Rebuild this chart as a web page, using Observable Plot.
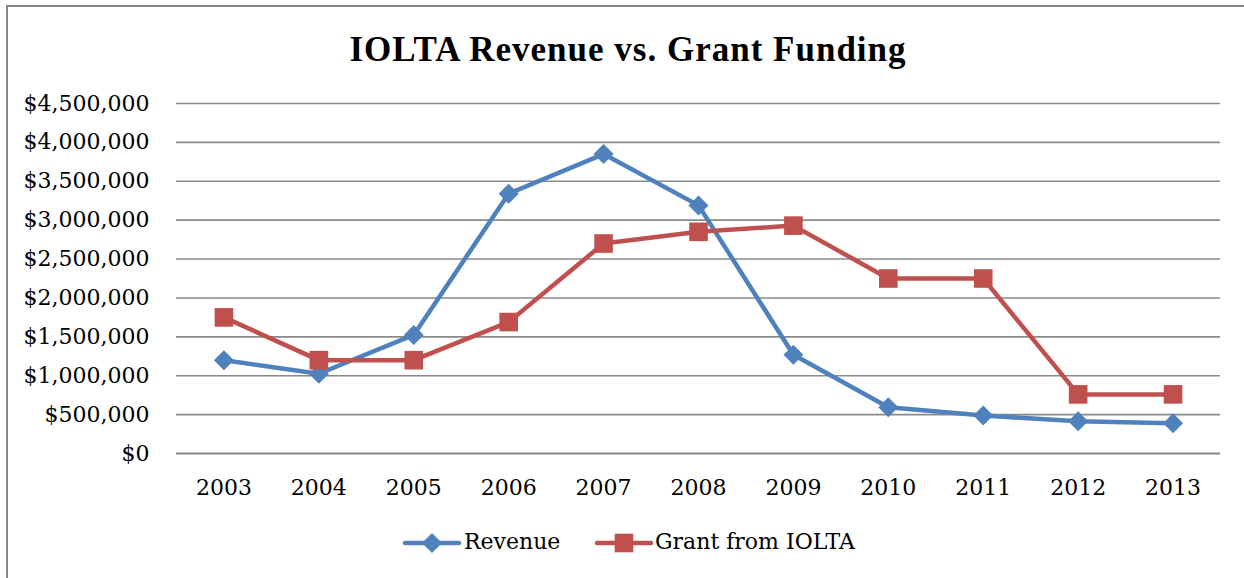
<!DOCTYPE html>
<html>
<head>
<meta charset="utf-8">
<script src="https://cdn.jsdelivr.net/npm/d3@7"></script>
<script src="https://cdn.jsdelivr.net/npm/@observablehq/plot@0.6"></script>
<style>
  html, body { margin: 0; padding: 0; background: #fff; width: 1244px; height: 578px; overflow: hidden; }
  #frame { position: absolute; left: 6px; top: 5px; width: 1260px; height: 600px; border-left: 2px solid #878787; border-top: 2px solid #878787; }
  #title { position: absolute; left: 6px; width: 1244px; top: 33px; text-align: center; font: bold 35px "Liberation Serif", serif; letter-spacing: 1px; line-height: 34px; color: #000; white-space: nowrap; }
  #chart { position: absolute; left: 0; top: 90px; }
  .leg { position: absolute; top: 531px; font: 22px "DejaVu Serif", serif; line-height: 22px; color: #000; white-space: nowrap; }
  .sw { position: absolute; top: 533px; }
</style>
</head>
<body>
<div id="frame"></div>
<div id="title">IOLTA Revenue vs. Grant Funding</div>
<div id="chart"></div>
<div id="legend"></div>
<script>
const years = ["2003","2004","2005","2006","2007","2008","2009","2010","2011","2012","2013"];
const revenue = [1200000, 1025000, 1525000, 3340000, 3850000, 3190000, 1270000, 595000, 488000, 415000, 390000];
const grant = [1750000, 1200000, 1200000, 1690000, 2700000, 2850000, 2930000, 2250000, 2250000, 760000, 760000];
const seriesNames = ["Revenue", "Grant from IOLTA"];
const seriesColors = ["#4F81BD", "#C0504D"];
const seriesSymbols = ["diamond2", "square"];
const yTicks = [0, 500000, 1000000, 1500000, 2000000, 2500000, 3000000, 3500000, 4000000, 4500000];

const revData = years.map((y, i) => ({year: y, value: revenue[i], series: seriesNames[0]}));
const grantData = years.map((y, i) => ({year: y, value: grant[i], series: seriesNames[1]}));

const fmt = d => "$" + d3.format(",")(d);

const chart = Plot.plot({
  width: 1244,
  height: 420,
  marginLeft: 176,
  marginRight: 24,
  marginTop: 13,
  marginBottom: 57,
  style: {fontFamily: "'DejaVu Serif', serif", fontSize: "22px", color: "#000", background: "transparent", overflow: "visible"},
  x: {type: "point", domain: years, padding: 0.5, round: false, label: null},
  y: {domain: [0, 4500000], label: null},
  color: {domain: seriesNames, range: seriesColors},
  marks: [
    Plot.ruleY(yTicks.slice(1), {stroke: "#8a8a8a", strokeWidth: 1.6}),
    Plot.ruleY([0], {stroke: "#858585", strokeWidth: 2}),
    Plot.axisY({ticks: yTicks, tickSize: 0, tickPadding: 27, tickFormat: fmt, label: null}),
    Plot.axisX({tickSize: 0, tickPadding: 26, label: null}),
    Plot.line(revData, {x: "year", y: "value", stroke: "series", strokeWidth: 4.5}),
    Plot.dot(revData, {x: "year", y: "value", fill: "series", symbol: seriesSymbols[0], r: 9, stroke: "none"}),
    Plot.line(grantData, {x: "year", y: "value", stroke: "series", strokeWidth: 4.5}),
    Plot.dot(grantData, {x: "year", y: "value", fill: "series", symbol: seriesSymbols[1], r: 10.5, stroke: "none"})
  ]
});
document.getElementById("chart").appendChild(chart);

// Legend
const legend = document.getElementById("legend");
const legendItems = [
  {name: seriesNames[0], color: seriesColors[0], symbol: seriesSymbols[0], swLeft: 402, textLeft: 464},
  {name: seriesNames[1], color: seriesColors[1], symbol: seriesSymbols[1], swLeft: 594, textLeft: 655}
];
for (const it of legendItems) {
  const svg = d3.create("svg").attr("class", "sw").attr("width", 60).attr("height", 20)
    .style("left", it.swLeft + "px");
  svg.append("line").attr("x1", 3).attr("x2", 57).attr("y1", 10).attr("y2", 10)
    .attr("stroke", it.color).attr("stroke-width", 4.5).attr("stroke-linecap", "round");
  if (it.symbol === "diamond2") {
    svg.append("path").attr("d", d3.symbol(d3.symbolDiamond2, 9 * 9 * Math.PI)()).attr("transform", "translate(30,10)").attr("fill", it.color);
  } else {
    svg.append("path").attr("d", d3.symbol(d3.symbolSquare, 10.5 * 10.5 * Math.PI)()).attr("transform", "translate(30,10)").attr("fill", it.color);
  }
  legend.appendChild(svg.node());
  const t = document.createElement("div");
  t.className = "leg";
  t.style.left = it.textLeft + "px";
  t.textContent = it.name;
  legend.appendChild(t);
}
</script>
</body>
</html>
